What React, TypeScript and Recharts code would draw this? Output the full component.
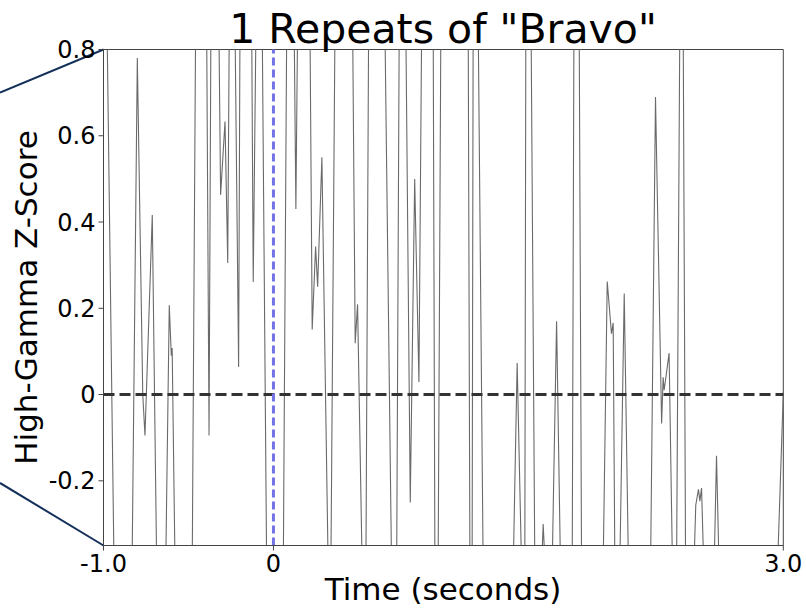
import React from 'react';
import { LineChart, Line, XAxis, YAxis, ReferenceLine, ReferenceArea } from 'recharts';

// Time (s) and high-gamma z-score samples.
// Values of 0.85 / -0.4 mark where the trace leaves the visible window.
const timeSec = [
  -1.0, -0.979, -0.938, -0.832, -0.801, -0.769, -0.756, -0.713, -0.687, -0.634,
  -0.613, -0.601, -0.596, -0.579, -0.478, -0.458, -0.393, -0.379, -0.368, -0.321,
  -0.311, -0.285, -0.269, -0.26, -0.226, -0.205, -0.197, -0.128, -0.119, -0.103,
  -0.066, -0.04, 0.058, 0.078, 0.122, 0.132, 0.142, 0.215, 0.228, 0.248,
  0.26, 0.285, 0.322, 0.338, 0.362, 0.466, 0.481, 0.495, 0.522, 0.544,
  0.56, 0.656, 0.695, 0.725, 0.74, 0.779, 0.805, 0.831, 0.856, 0.872,
  0.94, 0.95, 0.969, 0.985, 1.146, 1.156, 1.169, 1.175, 1.205, 1.234,
  1.411, 1.434, 1.46, 1.479, 1.485, 1.516, 1.538, 1.578, 1.587, 1.599,
  1.64, 1.666, 1.689, 1.758, 1.768, 1.799, 1.813, 1.94, 1.964, 1.989,
  1.999, 2.009, 2.038, 2.064, 2.089, 2.219, 2.248, 2.284, 2.293, 2.299,
  2.328, 2.348, 2.372, 2.391, 2.411, 2.425, 2.474, 2.485, 2.501, 2.509,
  2.519, 2.532, 2.593, 2.607, 2.622, 2.966, 3.0,
];

const zScore = [
  0.85, 0.85, -0.4, -0.4, 0.78, 0.0, -0.095, 0.416, -0.4, -0.4,
  0.207, 0.09, 0.108, -0.4, -0.4, 0.85, 0.85, -0.095, 0.85, 0.85,
  0.463, 0.633, 0.305, 0.85, 0.85, 0.064, 0.85, 0.85, 0.261, 0.85,
  0.85, -0.4, -0.4, 0.85, 0.85, 0.43, 0.85, 0.85, 0.151, 0.343,
  0.25, 0.55, -0.4, -0.4, 0.85, 0.85, 0.119, 0.209, -0.4, -0.4,
  0.85, 0.85, -0.4, -0.4, 0.85, 0.85, -0.25, 0.5, 0.029, 0.85,
  0.85, -0.4, -0.4, 0.85, 0.85, -0.4, -0.4, 0.85, 0.85, -0.4,
  -0.4, 0.073, -0.4, -0.4, 0.85, 0.85, -0.4, -0.4, -0.3, -0.4,
  -0.4, 0.17, -0.4, -0.4, 0.85, 0.85, -0.4, -0.4, 0.262, 0.141,
  0.166, -0.4, -0.4, 0.234, -0.4, -0.4, 0.69, -0.067, 0.04, 0.01,
  0.096, -0.4, -0.4, 0.85, 0.85, -0.4, -0.4, -0.256, -0.22, -0.247,
  -0.217, -0.4, -0.4, -0.142, -0.4, -0.4, 0.005,
];

const xTicks = [-1, 0, 3];
const xTickLabels = ['-1.0', '0', '3.0'];
const yTicks = [-0.2, 0, 0.2, 0.4, 0.6, 0.8];
const yTickLabels = ['-0.2', '0', '0.2', '0.4', '0.6', '0.8'];
const xDomain = [-1, 3];
const yDomain = [-0.35, 0.8];

// zoom-inset connector segments (data coords, extending left of the axes)
const insetUpper = [{ x: -1.609, y: 0.7 }, { x: -1, y: 0.8 }];
const insetLower = [{ x: -1.609, y: -0.205 }, { x: -1, y: -0.35 }];

const titleText = '1 Repeats of "Bravo"';
const xLabelText = 'Time (seconds)';
const yLabelText = 'High-Gamma Z-Score';

const data = timeSec.map((t, i) => ({ t, z: zScore[i] }));

const FONT = 'DejaVu Sans, sans-serif';

export default function App() {
  const fmtX = (v: number) => xTickLabels[xTicks.indexOf(v)] ?? String(v);
  const fmtY = (v: number) => {
    const i = yTicks.findIndex((t) => Math.abs(t - v) < 1e-9);
    return i >= 0 ? yTickLabels[i] : String(v);
  };
  return (
    <div style={{ position: 'absolute', left: 0, top: 0, width: 806, height: 610, background: '#fff' }}>
      <LineChart
        width={806}
        height={610}
        data={data}
        margin={{ top: 49.5, right: 22.7, bottom: 34.5, left: 0 }}
      >
        <XAxis
          dataKey="t"
          type="number"
          domain={xDomain}
          ticks={xTicks}
          interval={0}
          allowDataOverflow
          height={30}
          tickSize={5}
          tickMargin={4}
          tickFormatter={fmtX}
          axisLine={{ stroke: '#444', strokeWidth: 1 }}
          tickLine={{ stroke: '#444', strokeWidth: 1 }}
          tick={{ fill: '#000', fontSize: 24, fontFamily: FONT }}
        />
        <YAxis
          type="number"
          domain={yDomain}
          ticks={yTicks}
          interval={0}
          allowDataOverflow
          width={103.5}
          tickSize={5}
          tickMargin={3}
          tickFormatter={fmtY}
          axisLine={{ stroke: '#444', strokeWidth: 1 }}
          tickLine={{ stroke: '#444', strokeWidth: 1 }}
          tick={{ fill: '#000', fontSize: 24, fontFamily: FONT }}
        />
        <ReferenceArea
          x1={xDomain[0]}
          x2={xDomain[1]}
          y1={yDomain[0]}
          y2={yDomain[1]}
          fill="none"
          stroke="#444"
          strokeWidth={1}
          ifOverflow="visible"
        />
        <Line
          type="linear"
          dataKey="z"
          stroke="#6a6a6a"
          strokeWidth={1.1}
          dot={false}
          activeDot={false}
          isAnimationActive={false}
        />
        <ReferenceLine y={0} stroke="#333" strokeWidth={3} strokeDasharray="11 5" />
        <ReferenceLine x={0} stroke="#7373e6" strokeWidth={3} strokeDasharray="8 4" />
        <ReferenceLine segment={insetUpper} stroke="#14305a" strokeWidth={2} ifOverflow="visible" />
        <ReferenceLine segment={insetLower} stroke="#14305a" strokeWidth={2} ifOverflow="visible" />
      </LineChart>
      <svg
        width={806}
        height={610}
        style={{ position: 'absolute', left: 0, top: 0, pointerEvents: 'none' }}
      >
        <text x={443} y={43} textAnchor="middle" fontSize={41} fontFamily={FONT} fill="#000">
          {titleText}
        </text>
        <text x={443} y={600} textAnchor="middle" fontSize={31} fontFamily={FONT} fill="#000">
          {xLabelText}
        </text>
        <text
          x={0}
          y={0}
          transform="translate(37,297.5) rotate(-90)"
          textAnchor="middle"
          fontSize={31}
          fontFamily={FONT}
          fill="#000"
        >
          {yLabelText}
        </text>
      </svg>
    </div>
  );
}
